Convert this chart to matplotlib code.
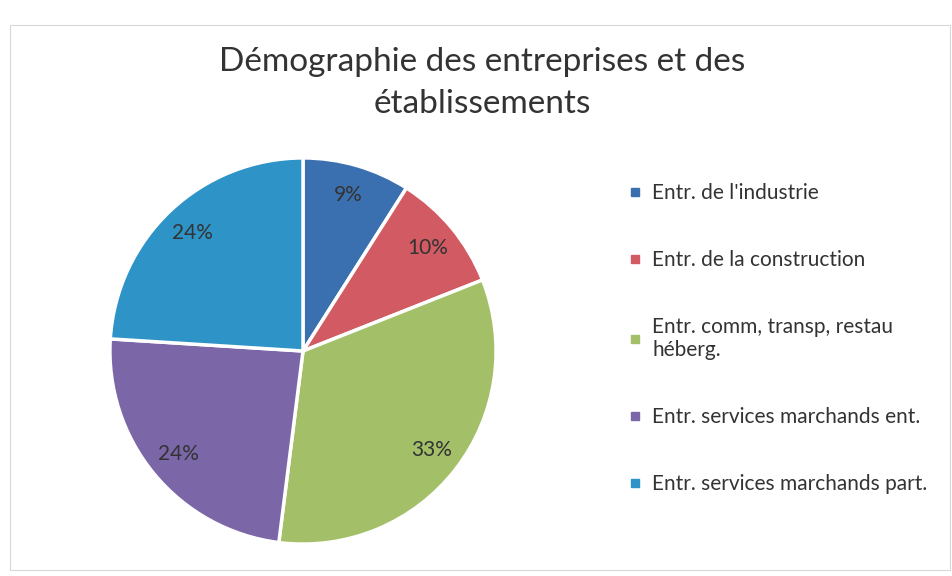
import matplotlib
matplotlib.use("Agg")
import matplotlib.pyplot as plt
from matplotlib.lines import Line2D
from matplotlib.patches import Rectangle

plt.rcParams['font.family'] = ['Lato', 'DejaVu Sans']

title = "Démographie des entreprises et des\nétablissements"
categories = ["Entr. de l'industrie", "Entr. de la construction",
              "Entr. comm, transp, restau\nhéberg.",
              "Entr. services marchands ent.", "Entr. services marchands part."]
values = [9, 10, 33, 24, 24]
colors = ["#3b70b0", "#d25a62", "#a3bf68", "#7b66a8", "#2e93c6"]

fig = plt.figure(figsize=(9.53, 5.76), dpi=100)
fig.patch.set_facecolor("white")
fig.patches.append(Rectangle((10/953, 1-570/576), 940/953, 545/576, transform=fig.transFigure,
                             fill=False, edgecolor="#d8d8d8", linewidth=0.8))

r = 195
ax = fig.add_axes([(303-r)/953, (576-351-r)/576, 2*r/953, 2*r/576])
wedges, texts, autotexts = ax.pie(values, colors=colors, startangle=90, counterclock=False,
                                  autopct=lambda p: f"{p:.0f}%", pctdistance=0.84,
                                  wedgeprops=dict(edgecolor="white", linewidth=2.5),
                                  textprops=dict(fontsize=15, color="#333333"))
ax.set_xlim(-1.01, 1.01)
ax.set_ylim(-1.01, 1.01)
ax.set_aspect("equal")

fig.text(0.506, 1-47/576, title, ha="center", va="top", fontsize=24, color="#333333",
         linespacing=1.48)

handles = [Line2D([], [], marker="s", linestyle="none", markersize=5.5, color=c) for c in colors]
leg = fig.legend(handles, categories, loc="upper left", bbox_to_anchor=(620/953, 1-175/576),
                 frameon=False, fontsize=15, labelspacing=2.25, handlelength=0.6,
                 handletextpad=0.55, borderaxespad=0, labelcolor="#333333")

fig.savefig("out.png", dpi=100)
